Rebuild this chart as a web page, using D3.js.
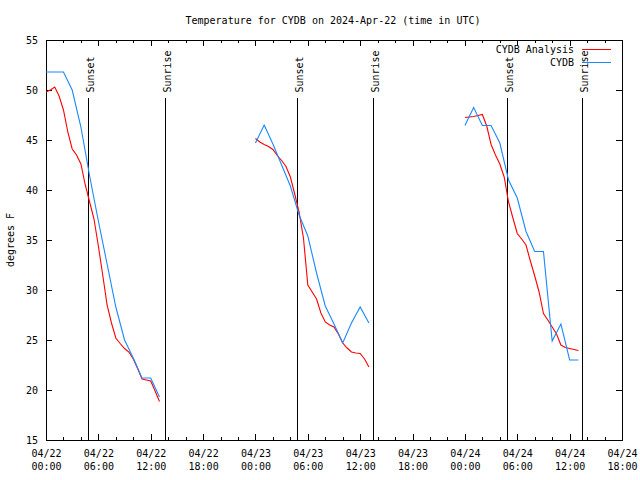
<!DOCTYPE html>
<html><head><meta charset="utf-8">
<script src="https://cdn.jsdelivr.net/npm/d3@7"></script>
<style>
body{margin:0;background:#fff}
text{font-family:"DejaVu Sans Mono",monospace;font-size:10px;fill:#000}
</style>
</head><body>
<svg id="c" width="640" height="480"></svg>
<script>
// ---- data (hours after 2024-04-22 00:00 UTC) ----
const analysisHours = [
  0,0.5,1,1.5,2,2.5,3,3.5,4,4.5,5,5.5,6,6.5,7,7.5,8,8.5,9,9.5,10,10.5,11,11.5,12,12.5,13,
  24,24.5,25,25.5,26,26.5,27,27.5,28,28.5,29,29.5,30,30.5,31,31.5,32,32.5,33,33.5,34,34.5,35,35.5,36,36.5,37,
  48,48.5,49,49.5,50,50.5,51,51.5,52,52.5,53,53.5,54,54.5,55,55.5,56,56.5,57,57.5,58,58.5,59,59.5,60,60.5,61];
const analysisTemps = [
  49.8,50.0,50.3,49.4,48.0,45.8,44.1,43.5,42.6,40.5,38.8,37.1,34.4,31.5,28.5,26.7,25.2,24.65,24.15,23.8,23.1,22.15,21.1,21.0,20.9,19.9,18.85,
  45.15,44.8,44.55,44.35,44.05,43.45,42.95,42.35,41.3,39.6,37.8,35.2,30.5,29.8,29.1,27.7,26.8,26.5,26.3,25.6,24.7,24.2,23.8,23.7,23.65,23.1,22.3,
  47.25,47.3,47.35,47.45,47.55,46.4,44.55,43.5,42.6,41.3,38.8,37.2,35.65,35.1,34.5,32.9,31.4,29.8,27.65,27.0,26.3,25.6,24.5,24.25,24.15,24.05,23.95];
const cydbHours = [
  0,1,2,3,4,5,6,7,8,9,10,11,12,13,
  24,25,26,27,28,29,30,31,32,33,34,35,36,37,
  48,49,50,51,52,53,54,55,56,57,58,59,60,61];
const cydbTemps = [
  51.8,51.8,51.8,50.0,46.3,41.4,36.9,32.6,28.3,25.0,23.2,21.2,21.2,19.3,
  44.7,46.5,44.6,42.5,40.4,37.5,35.4,31.7,28.4,26.6,24.7,26.7,28.3,26.7,
  46.45,48.25,46.45,46.45,44.7,41.0,39.2,35.85,33.85,33.85,24.9,26.6,23.0,23.0];
const sunsetTimes  = ["2024-04-22T04:51Z","2024-04-23T04:50Z","2024-04-24T04:54Z"];
const sunriseTimes = ["2024-04-22T13:40Z","2024-04-23T13:31Z","2024-04-24T13:30Z"];
const yTicks = [15,20,25,30,35,40,45,50,55];
const seriesNames = ["CYDB Analysis","CYDB"];
const seriesColors = ["#ff0000","#1a88ff"];
const titleText = "Temperature for CYDB on 2024-Apr-22 (time in UTC)";
const yTitle = "degrees F";

// ---- layout ----
const W=640,H=480, L=46,R=622,T=40,B=440;
const t0 = Date.UTC(2024,3,22,0,0);
const toDate = h => new Date(t0 + h*3600e3);
const x = d3.scaleUtc().domain([new Date("2024-04-22T00:00Z"), new Date("2024-04-24T18:00Z")]).range([L,R]);
const y = d3.scaleLinear().domain([15,55]).range([B,T]);
const svg = d3.select("#c");
svg.append("rect").attr("width",W).attr("height",H).attr("fill","#fff");

const majorTicks = d3.utcHour.every(6).range(x.domain()[0], new Date(x.domain()[1].getTime()+1));
const minorTicks = d3.utcHour.every(2).range(x.domain()[0], x.domain()[1]).filter(d=>d.getUTCHours()%6!==0);

// bottom axis major
const gb = svg.append("g").attr("transform",`translate(0,${B})`)
  .call(d3.axisBottom(x).tickValues(majorTicks).tickSize(-6).tickPadding(7).tickFormat(d3.utcFormat("%m/%d")));
gb.select(".domain").remove();
gb.selectAll("text").each(function(d){
  const t=d3.select(this); t.text(null).attr("dy",null).attr("y",17);
  t.append("tspan").attr("x",0).text(d3.utcFormat("%m/%d")(d));
  t.append("tspan").attr("x",0).attr("dy",13).text(d3.utcFormat("%H:%M")(d));
});
svg.append("g").attr("transform",`translate(0,${B})`)
  .call(d3.axisBottom(x).tickValues(minorTicks).tickSize(-3).tickFormat(""))
  .select(".domain").remove();
// top axis mirror
svg.append("g").attr("transform",`translate(0,${T})`)
  .call(d3.axisTop(x).tickValues(majorTicks).tickSize(-6).tickFormat(""))
  .select(".domain").remove();
svg.append("g").attr("transform",`translate(0,${T})`)
  .call(d3.axisTop(x).tickValues(minorTicks).tickSize(-3).tickFormat(""))
  .select(".domain").remove();
// left/right
const gl = svg.append("g").attr("transform",`translate(${L},0)`)
  .call(d3.axisLeft(y).tickValues(yTicks).tickSize(-6).tickPadding(8).tickFormat(d3.format("d")));
gl.select(".domain").remove();
svg.append("g").attr("transform",`translate(${R},0)`)
  .call(d3.axisRight(y).tickValues(yTicks).tickSize(-6).tickFormat(""))
  .select(".domain").remove();
svg.selectAll(".tick line").attr("stroke","#000").attr("shape-rendering","crispEdges");
svg.selectAll("g").attr("font-family",null).attr("font-size",null);

// border
svg.append("rect").attr("x",L).attr("y",T).attr("width",R-L).attr("height",B-T)
  .attr("fill","none").attr("stroke","#000").attr("shape-rendering","crispEdges");

// sunset / sunrise markers
const markTop = y(49.2);
const markers = sunsetTimes.map(t=>({t:new Date(t),label:"Sunset"}))
  .concat(sunriseTimes.map(t=>({t:new Date(t),label:"Sunrise"})));
markers.forEach(m=>{
  const xm = x(m.t);
  svg.append("line").attr("x1",xm).attr("x2",xm).attr("y1",markTop).attr("y2",B)
    .attr("stroke","#000").attr("shape-rendering","crispEdges");
  svg.append("text").attr("transform",`translate(${xm+5.5},${markTop-5.5}) rotate(-90)`).text(m.label);
});

// data lines, split at gaps
function segments(hours, temps){
  const segs=[]; let cur=[];
  hours.forEach((h,i)=>{
    if(cur.length && h-hours[i-1]>2){segs.push(cur);cur=[];}
    cur.push({t:toDate(h),v:temps[i]});
  });
  if(cur.length) segs.push(cur);
  return segs;
}
const line = d3.line().x(d=>x(d.t)).y(d=>y(d.v));
[[analysisHours,analysisTemps],[cydbHours,cydbTemps]].forEach(([hs,vs],k)=>{
  segments(hs,vs).forEach(s=>{
    svg.append("path").attr("d",line(s)).attr("fill","none")
      .attr("stroke",seriesColors[k]).attr("stroke-width",1.1);
  });
});

// legend
seriesNames.forEach((n,i)=>{
  const ly = 49 + i*13;
  svg.append("text").attr("x",574).attr("y",ly+4).attr("text-anchor","end").text(n);
  svg.append("line").attr("x1",582).attr("x2",611).attr("y1",ly).attr("y2",ly)
    .attr("stroke",seriesColors[i]).attr("shape-rendering","crispEdges");
});

// titles
svg.append("text").attr("x",333).attr("y",24).attr("text-anchor","middle").text(titleText);
svg.append("text").attr("transform",`translate(14,${(T+B)/2}) rotate(-90)`).attr("text-anchor","middle").text(yTitle);
</script>
</body></html>
